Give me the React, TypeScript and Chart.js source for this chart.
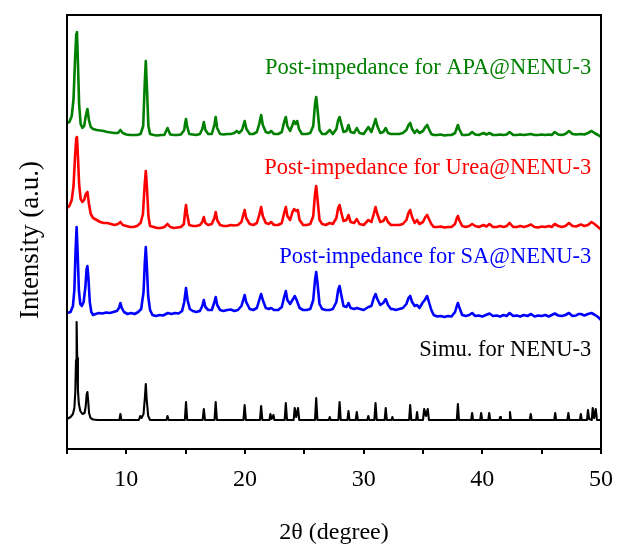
import { useEffect, useRef } from "react";
import { Chart, registerables } from "chart.js";

Chart.register(...registerables);

// 2θ range and labelled ticks
const thetaMin = 5;
const thetaMax = 50;
const thetaTickStep = 5;
const labelledTicks = [10, 20, 30, 40, 50];

// Series names, colours and vertical stacking offsets (a.u.)
const seriesNames = [
  "Post-impedance for APA@NENU-3",
  "Post-impedance for Urea@NENU-3",
  "Post-impedance for SA@NENU-3",
  "Simu. for NENU-3",
];
const seriesColors = ["#008000", "#ff0000", "#0000ff", "#000000"];
const seriesOffsets = [315, 223, 137, 29];

// Patterns: [2θ (degree), intensity above own baseline (a.u.)]
const apa: number[][] = [
  [5.0, 11], [5.2, 12], [5.4, 18], [5.55, 35], [5.68, 75], [5.78, 100], [5.84, 102], [5.92, 72], [6.02, 30], [6.15, 10],
  [6.3, 6], [6.45, 8], [6.58, 18], [6.72, 25], [6.85, 14], [7.0, 7], [7.2, 5], [7.5, 4], [7.8, 3.5], [8.1, 3],
  [8.4, 2], [8.7, 1.5], [9.0, 1], [9.3, 1], [9.5, 4], [9.7, 1], [10.0, -0.5], [10.3, -1], [10.6, -1], [10.9, -1],
  [11.2, 0], [11.42, 8], [11.55, 50], [11.64, 73], [11.73, 48], [11.86, 8], [12.0, 0], [12.3, -1], [12.6, -1.5], [12.9, -1],
  [13.2, -1], [13.47, 6], [13.7, -0.5], [14.0, -1], [14.3, -1], [14.6, -0.5], [14.88, 4], [14.96, 11], [15.03, 15], [15.12, 8],
  [15.3, 0], [15.6, -0.5], [15.9, -1], [16.2, 0], [16.4, 5], [16.53, 12], [16.66, 4], [16.9, 0], [17.2, 0], [17.42, 9],
  [17.53, 17], [17.65, 6], [17.9, 0], [18.2, -0.5], [18.5, 0], [18.8, 0], [19.1, 1], [19.3, 3], [19.5, 1], [19.75, 4],
  [19.97, 13], [20.12, 5], [20.4, 0], [20.7, 0], [21.0, 2], [21.2, 10], [21.36, 19], [21.5, 9], [21.75, 2], [22.0, 1],
  [22.2, 3], [22.45, 0], [22.8, 0], [23.1, 2], [23.3, 12], [23.44, 17], [23.57, 8], [23.8, 3], [24.0, 9], [24.12, 13],
  [24.27, 10], [24.4, 13], [24.55, 5], [24.8, 0], [25.2, 0], [25.5, 1], [25.75, 8], [25.9, 30], [26.0, 37], [26.1, 26],
  [26.28, 4], [26.5, 0], [26.8, 0], [27.14, 4], [27.4, 0], [27.7, 5], [27.85, 14], [27.97, 17], [28.1, 11], [28.3, 2],
  [28.55, 3], [28.72, 9], [28.9, 2], [29.2, 1], [29.42, 6], [29.65, 1], [30.0, 0], [30.4, 7], [30.65, 2], [30.85, 9],
  [31.0, 15], [31.15, 8], [31.4, 1], [31.65, 2], [31.86, 6], [32.05, 1], [32.3, 0], [32.7, 0], [33.0, 0], [33.3, 1],
  [33.6, 4], [33.78, 9], [33.92, 11], [34.08, 5], [34.3, 1], [34.5, 4], [34.7, 1], [35.0, 3], [35.2, 7], [35.35, 9],
  [35.5, 5], [35.7, 0], [35.9, -1], [36.2, -1], [36.5, -0.5], [36.8, -1.5], [37.1, -1], [37.4, -1], [37.7, 1], [37.85, 6],
  [37.94, 9], [38.05, 5], [38.3, -1], [38.6, -1], [38.9, -0.5], [39.14, 2], [39.4, -0.5], [39.7, -1], [40.1, 1], [40.35, -0.5],
  [40.6, 1], [40.9, -1], [41.2, -1], [41.5, -0.5], [41.8, -1], [42.05, -0.5], [42.3, 2], [42.6, -1], [42.9, -1], [43.2, -0.5],
  [43.5, -1], [43.8, -0.5], [44.1, 0], [44.4, -1], [44.7, -1], [45.0, -0.5], [45.3, -1], [45.6, -0.5], [45.85, -1], [46.1, 2],
  [46.4, -0.5], [46.7, -1], [47.0, 0], [47.3, 3], [47.6, 0], [47.9, -0.5], [48.3, 0], [48.6, -0.5], [48.9, 1], [49.2, 3],
  [49.45, 1], [49.75, -1], [50.0, -3],
];

const urea: number[][] = [
  [5.0, 18], [5.2, 20], [5.4, 26], [5.55, 40], [5.68, 70], [5.78, 88], [5.84, 89], [5.92, 70], [6.02, 42], [6.15, 27],
  [6.3, 24], [6.45, 26], [6.58, 32], [6.72, 34], [6.85, 22], [7.0, 12], [7.2, 8], [7.5, 6], [7.8, 4], [8.1, 3],
  [8.4, 3], [8.7, 2], [9.0, 1], [9.3, 2], [9.5, 4], [9.7, 1], [10.0, 0], [10.3, -1], [10.6, -1], [10.9, 0],
  [11.2, 3], [11.4, 12], [11.54, 40], [11.64, 55], [11.74, 38], [11.86, 10], [12.0, 0], [12.3, -1], [12.6, -2], [12.9, -2],
  [13.2, -1], [13.47, 2], [13.7, -1], [14.0, -2], [14.3, -1.5], [14.6, -1], [14.85, 2], [14.95, 14], [15.03, 21], [15.12, 12],
  [15.3, 1], [15.6, 0], [15.9, 0], [16.2, 1], [16.4, 4], [16.53, 9], [16.66, 3], [16.9, 1], [17.2, 2], [17.42, 8],
  [17.53, 14], [17.65, 6], [17.9, 1], [18.2, 0], [18.5, 0], [18.8, 1], [19.1, 0.5], [19.4, 1], [19.7, 4], [19.85, 11],
  [19.97, 16], [20.1, 8], [20.4, 2], [20.7, 1], [21.0, 3], [21.2, 11], [21.36, 19], [21.5, 10], [21.75, 3], [22.0, 2],
  [22.2, 4], [22.45, 1], [22.8, 1], [23.1, 3], [23.3, 13], [23.44, 19], [23.57, 10], [23.8, 6], [24.0, 14], [24.15, 17],
  [24.3, 15], [24.45, 16], [24.6, 6], [24.9, 1], [25.2, 1], [25.5, 2], [25.75, 10], [25.9, 32], [26.0, 40], [26.1, 28],
  [26.28, 6], [26.5, 2], [26.8, 1], [27.14, 3], [27.4, 2], [27.7, 8], [27.85, 18], [27.97, 21], [28.1, 14], [28.3, 5],
  [28.55, 6], [28.72, 11], [28.9, 4], [29.2, 3], [29.42, 7], [29.65, 2], [30.0, 1], [30.4, 6], [30.65, 4], [30.85, 12],
  [31.0, 19], [31.15, 12], [31.4, 4], [31.65, 5], [31.86, 9], [32.05, 4], [32.3, 1], [32.7, 1], [33.0, 1], [33.3, 2],
  [33.6, 6], [33.78, 13], [33.92, 16], [34.08, 9], [34.3, 3], [34.5, 6], [34.7, 2], [35.0, 4], [35.2, 9], [35.35, 11],
  [35.5, 7], [35.7, 2], [35.9, -1], [36.2, -1], [36.5, -0.5], [36.8, -1.5], [37.1, -1], [37.4, -1], [37.7, 2], [37.85, 8],
  [37.94, 10], [38.05, 6], [38.3, 0], [38.6, -1], [38.9, 0], [39.14, 2], [39.4, 0], [39.7, -1], [40.1, 1], [40.35, -0.5],
  [40.6, 2], [40.9, -1], [41.2, -1], [41.5, 0], [41.8, -1], [42.05, 0], [42.3, 3], [42.6, -1], [42.9, -1], [43.2, 0],
  [43.5, -1], [43.8, 0], [44.1, 1.5], [44.4, -1], [44.7, -1.5], [45.0, -0.5], [45.3, -1], [45.6, 0], [45.85, -1], [46.1, 2],
  [46.4, 0], [46.7, -1], [47.0, 0], [47.3, 3], [47.6, 0], [47.9, -0.5], [48.3, 1.5], [48.6, 0], [48.9, 1], [49.2, 4],
  [49.45, 2], [49.75, -1], [50.0, -3.5],
];

const sa: number[][] = [
  [5.0, -1], [5.3, 0], [5.5, 6], [5.62, 22], [5.72, 60], [5.81, 85], [5.9, 58], [6.0, 22], [6.12, 8], [6.25, 6],
  [6.4, 10], [6.55, 25], [6.65, 43], [6.72, 46], [6.8, 35], [6.92, 10], [7.05, 0], [7.2, -3], [7.4, -2], [7.7, -1],
  [8.0, -1.5], [8.3, -0.5], [8.6, -1], [8.9, 0], [9.2, 1], [9.38, 4], [9.5, 9], [9.62, 4], [9.8, 0], [10.1, -2],
  [10.4, -1], [10.7, -2], [11.0, 0], [11.25, 3], [11.45, 20], [11.56, 50], [11.64, 65], [11.72, 48], [11.84, 16], [12.0, 2],
  [12.2, -3], [12.5, -4], [12.8, -3], [13.1, -3.5], [13.5, -1], [13.8, -2], [14.1, -1], [14.4, -1.5], [14.7, 1], [14.88, 10],
  [15.03, 24], [15.16, 12], [15.35, 3], [15.6, 1], [15.9, 0], [16.2, 1], [16.4, 6], [16.53, 12], [16.66, 5], [16.9, 2],
  [17.2, 2], [17.4, 9], [17.53, 15], [17.66, 7], [17.9, 2], [18.2, 1], [18.5, 2], [18.8, 2.5], [19.1, 1], [19.4, 2],
  [19.7, 6], [19.85, 12], [19.97, 17], [20.1, 10], [20.4, 3], [20.7, 2], [21.0, 4], [21.2, 12], [21.36, 18], [21.5, 12],
  [21.75, 4], [22.0, 3], [22.2, 4], [22.45, 2], [22.8, 2], [23.1, 5], [23.3, 15], [23.44, 21], [23.57, 12], [23.8, 8],
  [24.05, 13], [24.2, 16], [24.35, 12], [24.6, 4], [24.9, 2], [25.2, 2], [25.5, 3], [25.75, 12], [25.9, 32], [26.0, 40],
  [26.1, 30], [26.28, 8], [26.5, 3], [26.8, 2], [27.14, 2], [27.4, 3], [27.7, 10], [27.85, 22], [27.97, 26], [28.1, 18],
  [28.3, 6], [28.55, 5], [28.72, 9], [28.9, 4], [29.2, 3], [29.42, 4], [29.7, 3], [30.0, 2], [30.4, 5], [30.65, 6],
  [30.85, 14], [31.0, 18], [31.15, 13], [31.4, 7], [31.65, 9], [31.86, 13], [32.05, 7], [32.3, 3], [32.45, 3], [32.7, 2],
  [33.0, 3], [33.3, 4], [33.6, 8], [33.78, 14], [33.92, 16], [34.08, 10], [34.3, 6], [34.5, 7], [34.7, 4], [34.95, 9],
  [35.15, 12], [35.35, 16], [35.5, 10], [35.7, 2], [35.9, -3], [36.2, -4.5], [36.5, -4], [36.8, -5], [37.1, -4], [37.4, -4.5],
  [37.7, 0], [37.85, 6], [37.94, 9], [38.05, 5], [38.3, -3], [38.6, -4], [38.9, -3], [39.14, -1], [39.4, -4], [39.7, -3.5],
  [40.0, -4.5], [40.3, -3], [40.6, -1.5], [40.9, -4], [41.2, -3.5], [41.5, -4.5], [41.8, -3], [42.05, -4], [42.3, -1], [42.6, -4],
  [42.9, -3.5], [43.2, -4.5], [43.5, -3], [43.8, -4], [44.1, -2], [44.4, -4.5], [44.7, -3.5], [45.0, -4], [45.3, -3], [45.6, -4.5],
  [45.85, -3], [46.1, -1.5], [46.4, -3.5], [46.7, -4], [47.0, -3], [47.3, -1], [47.6, -4], [47.9, -3.5], [48.1, -2], [48.3, -2],
  [48.6, -3.5], [48.9, -2], [49.2, -1], [49.5, -3], [49.75, -5], [50.0, -8],
];

const simu: number[][] = [
  [5.0, 1], [5.3, 3], [5.5, 6], [5.62, 12], [5.7, 28], [5.76, 60], [5.81, 98], [5.86, 62], [5.92, 30], [6.0, 16],
  [6.12, 9], [6.3, 6], [6.48, 7], [6.58, 14], [6.66, 26], [6.72, 28], [6.78, 20], [6.86, 7], [6.98, 2], [7.2, 0.5],
  [7.6, 0], [9.42, 0], [9.5, 6], [9.58, 0], [11.05, 0], [11.17, 4], [11.28, 2], [11.45, 6], [11.56, 22], [11.64, 36],
  [11.72, 20], [11.84, 4], [12.0, 0], [13.38, 0], [13.47, 4], [13.56, 0], [14.93, 0], [15.03, 18], [15.13, 0], [16.43, 0],
  [16.53, 11], [16.63, 0], [17.43, 0], [17.53, 18], [17.63, 0], [19.87, 0], [19.97, 15], [20.07, 0], [21.26, 0], [21.36, 14],
  [21.46, 0], [22.06, 0], [22.14, 6], [22.24, 1], [22.4, 5], [22.48, 0], [23.34, 0], [23.44, 17], [23.54, 0], [24.1, 0],
  [24.19, 12], [24.32, 3], [24.47, 12], [24.57, 0], [25.9, 0], [26.0, 22], [26.1, 0], [27.06, 0], [27.14, 3], [27.22, 0],
  [27.87, 0], [27.97, 18], [28.07, 0], [28.63, 0], [28.72, 9], [28.81, 0], [29.33, 0], [29.42, 8], [29.51, 0], [30.31, 0],
  [30.39, 4], [30.47, 0], [30.9, 0], [31.0, 17], [31.1, 0], [31.77, 0], [31.86, 12], [31.95, 0], [32.35, 0], [32.42, 3],
  [32.5, 0], [33.83, 0], [33.92, 15], [34.01, 0], [34.42, 0], [34.5, 8], [34.58, 0], [35.0, 0], [35.1, 11], [35.25, 4],
  [35.4, 11], [35.5, 0], [37.85, 0], [37.94, 16], [38.03, 0], [39.06, 0], [39.14, 7], [39.22, 0], [39.82, 0], [39.9, 7],
  [39.98, 0], [40.5, 0], [40.58, 7], [40.66, 0], [41.43, 0], [41.5, 3], [41.57, 0], [42.25, 0], [42.33, 8], [42.41, 0],
  [44.0, 0], [44.08, 6], [44.16, 0], [46.06, 0], [46.14, 7], [46.22, 0], [47.17, 0], [47.25, 7], [47.33, 0], [48.22, 0],
  [48.3, 6], [48.38, 0], [48.82, 0], [48.9, 10], [49.0, 1], [49.22, 0], [49.3, 12], [49.42, 2], [49.56, 11], [49.66, 0],
  [50.0, 0],
];

const patterns = [apa, urea, sa, simu];
const lineWidths = [2.6, 2.6, 2.6, 2.1];

const SERIF = "'Liberation Serif', 'Times New Roman', Times, serif";

// Plot frame, series captions and axis titles
const annotate = {
  id: "xrdAnnotate",
  afterDraw(chart: any) {
    const { ctx, chartArea: a, scales } = chart;
    const xs = scales.x;
    const ys = scales.y;
    ctx.save();
    ctx.strokeStyle = "#000";
    ctx.lineWidth = 2;
    ctx.strokeRect(a.left, a.top, a.right - a.left, a.bottom - a.top);

    const captionY = [381, 281, 192, 99];
    ctx.font = `22.5px ${SERIF}`;
    ctx.textAlign = "right";
    ctx.textBaseline = "middle";
    seriesNames.forEach((name, i) => {
      ctx.fillStyle = seriesColors[i];
      ctx.fillText(name, xs.getPixelForValue(49.17), ys.getPixelForValue(captionY[i]));
    });

    ctx.fillStyle = "#000";
    ctx.font = `24px ${SERIF}`;
    ctx.textAlign = "center";
    ctx.fillText("2θ (degree)", (a.left + a.right) / 2, 533);

    ctx.translate(31, 240);
    ctx.rotate(-Math.PI / 2);
    ctx.font = `27px ${SERIF}`;
    ctx.fillText("Intensity (a.u.)", 0, 0);
    ctx.restore();
  },
};

export default function App() {
  const ref = useRef<HTMLCanvasElement | null>(null);

  useEffect(() => {
    if (!ref.current) return;
    const chart = new Chart(ref.current, {
      type: "line",
      data: {
        datasets: patterns.map((pts, i) => ({
          label: seriesNames[i],
          data: pts.map(([x, v]) => ({ x, y: v + seriesOffsets[i] })),
          borderColor: seriesColors[i],
          borderWidth: lineWidths[i],
          pointRadius: 0,
          tension: 0,
          borderJoinStyle: "round" as const,
          borderCapStyle: "round" as const,
          fill: false,
        })),
      },
      options: {
        animation: false,
        responsive: false,
        layout: { padding: { left: 67, top: 15, right: 17, bottom: 0 } },
        plugins: { legend: { display: false }, tooltip: { enabled: false } },
        scales: {
          x: {
            type: "linear",
            min: thetaMin,
            max: thetaMax,
            afterFit: (s: any) => {
              s.height = 95;
            },
            ticks: {
              stepSize: thetaTickStep,
              autoSkip: false,
              maxRotation: 0,
              padding: 11,
              color: "#000",
              font: { family: SERIF, size: 24 },
              callback: (v: any) => (labelledTicks.includes(Number(v)) ? String(v) : ""),
            },
            grid: {
              drawOnChartArea: false,
              drawTicks: true,
              tickLength: 5,
              color: "#000",
              lineWidth: 2,
            },
            border: { display: true, color: "#000", width: 2 },
          },
          y: {
            display: false,
            min: 0,
            max: 434,
          },
        },
      },
      plugins: [annotate],
    });
    return () => chart.destroy();
  }, []);

  return (
    <div style={{ position: "fixed", left: 0, top: 0, width: 624, height: 544, background: "#fff" }}>
      <canvas ref={ref} width={624} height={544} style={{ width: 624, height: 544, display: "block" }} />
    </div>
  );
}
